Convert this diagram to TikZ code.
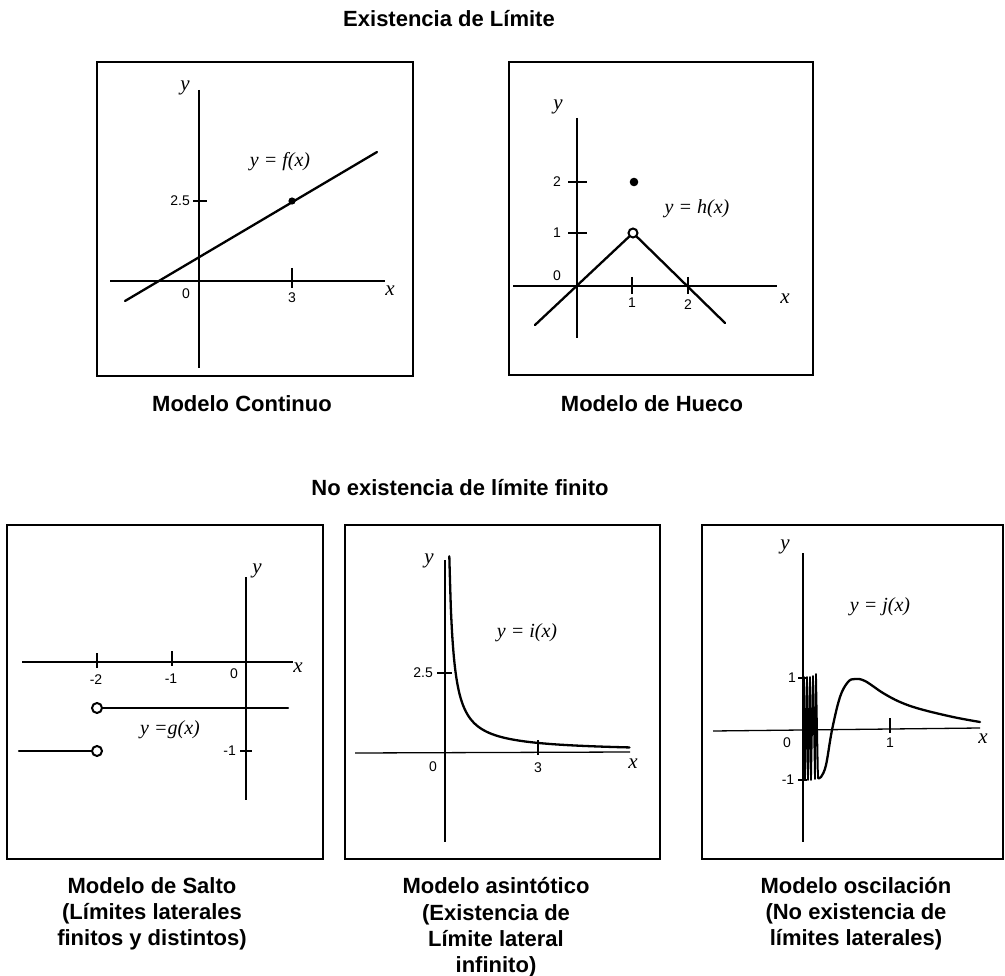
\documentclass[tikz,border=0pt]{standalone}
\usepackage{fontspec}
\setmainfont{Liberation Serif}
\setsansfont{Liberation Sans}
\begin{document}
\begin{tikzpicture}[x=1pt,y=-1pt,
  ax/.style={line width=1.3pt},
  crv/.style={line width=2.3pt,line cap=round,line join=round},
  frame/.style={line width=1.6pt},
  tk/.style={font=\fontsize{14}{16}\selectfont\sffamily,inner sep=0pt},
  var/.style={font=\fontsize{21}{22}\selectfont\itshape,inner sep=0pt},
  eq/.style={font=\fontsize{20}{22}\selectfont\itshape,inner sep=0pt},
  captxt/.style={font=\fontsize{22}{26}\selectfont\sffamily\bfseries,inner sep=0pt,anchor=base},
  hole/.style={draw,fill=white,line width=2pt},
]
\useasboundingbox (0,0) rectangle (1005,976);

% titles
\node[captxt] (t1) at (449,27) {Existencia de Límite};
\node[captxt] (t2) at (460,496) {No existencia de límite finito};

% ---------- Panel 1: continuo ----------
\draw[frame] (97,62) rectangle (413,376);
\draw[ax] (199,90) -- (199,368);
\draw[ax] (110,281) -- (385,281);
\draw[ax] (193,201) -- (207,201);
\draw[ax] (292,268) -- (292,288);
\draw[crv] (125,301) -- (377,152);
\fill (292,201) circle (3.6);
\node[tk,anchor=east] (p1a) at (190,201) {2.5};
\node[tk] (p1b) at (186,294) {0};
\node[tk] (p1c) at (292,298) {3};
\node[var] (p1x) at (390,291) {x};
\node[var] (p1y) at (185,88) {y};
\node[eq] (p1e) at (280,162) {y = f(x)};
\node[captxt] (c1) at (242,412) {Modelo Continuo};

% ---------- Panel 2: hueco ----------
\draw[frame] (509,62) rectangle (813,375);
\draw[ax] (577,118) -- (577,338);
\draw[ax] (513,286) -- (777,286);
\draw[ax] (568,182) -- (587,182);
\draw[ax] (568,233) -- (587,233);
\draw[ax] (632,277) -- (632,294);
\draw[ax] (688,277) -- (688,294);
\draw[crv] (535,325) -- (633,233) -- (725,323);
\node[hole,circle,inner sep=0pt,minimum size=9pt] (p2h) at (633,233) {};
\fill (634,182) circle (4.3);
\node[tk] (p2l2) at (557,182) {2};
\node[tk] (p2l1) at (557,233) {1};
\node[tk] (p2l0) at (557,276) {0};
\node[tk] (p2x1) at (632,303) {1};
\node[tk] (p2x2) at (688,305) {2};
\node[var] (p2x) at (785,299) {x};
\node[var] (p2y) at (558,107) {y};
\node[eq] (p2e) at (697,209) {y = h(x)};
\node[captxt] (c2) at (652,412) {Modelo de Hueco};

% ---------- Panel 3: salto ----------
\draw[frame] (7,525) rectangle (323,859);
\draw[ax] (246,577) -- (246,800);
\draw[ax] (22,662) -- (293,662);
\draw[ax] (97,653) -- (97,668);
\draw[ax] (172,651) -- (172,666);
\draw[ax] (240,751) -- (252,751);
\draw[crv] (97,708) -- (288,708);
\draw[crv] (19,751) -- (97,751);
\node[hole,circle,inner sep=0pt,minimum size=10pt] (p3h1) at (97,708) {};
\node[hole,circle,inner sep=0pt,minimum size=10pt] (p3h2) at (97,751) {};
\node[tk] (p3a) at (96,680) {-2};
\node[tk] (p3b) at (171,679) {-1};
\node[tk] (p3c) at (234,674) {0};
\node[var] (p3x) at (298,668) {x};
\node[var] (p3y) at (257,571) {y};
\node[tk,anchor=east] (p3d) at (236,751) {-1};
\node[eq] (p3e) at (170,730) {y =g(x)};
\node[captxt] (c3a) at (152,893) {Modelo de Salto};
\node[captxt] (c3b) at (152,919) {(Límites laterales};
\node[captxt] (c3c) at (152,945) {finitos y distintos)};

% ---------- Panel 4: asintotico ----------
\draw[frame] (345,525) rectangle (660,859);
\draw[ax] (445,560) -- (445,842);
\draw[ax] (355,753) -- (630,752);
\draw[ax] (437,673) -- (452,673);
\draw[ax] (538,740) -- (538,755);
\draw[crv] plot[domain=0.139:5.95,samples=120,smooth] ({445+31*\x},{752-27.2/\x});
\node[tk,anchor=east] (p4a) at (433,673) {2.5};
\node[tk] (p4b) at (433,767) {0};
\node[tk] (p4c) at (538,768) {3};
\node[var] (p4x) at (633,764) {x};
\node[var] (p4y) at (429,561) {y};
\node[eq] (p4e) at (527,633) {y = i(x)};
\node[captxt] (c4a) at (496,893) {Modelo asintótico};
\node[captxt] (c4b) at (496,920) {(Existencia de};
\node[captxt] (c4c) at (496,946) {Límite lateral};
\node[captxt] (c4d) at (496,972) {infinito)};

% ---------- Panel 5: oscilacion ----------
\draw[frame] (702,525) rectangle (1003,859);
\draw[ax] (803,553) -- (803,842);
\draw[ax] (713,731) -- (980,728);
\draw[ax] (798,678) -- (807,678);
\draw[ax] (798,780) -- (807,780);
\draw[ax] (890,718) -- (890,733);
\draw[line width=1.8pt,line join=round] (803,730) -- (804,677) -- (805,780) -- (807,677) -- (808,780)
  -- (810,677) -- (811,780) -- (813,676) -- (815,779) -- (816,674) -- (818,778);
\draw[crv] plot[smooth,tension=0.6] coordinates {(818,778) (821,777) (826,765) (832,730) (840,697) (848,682) (855,679) (865,681) (883,693) (900,702) (920,709) (953,717) (980,722)};
\node[tk] (p5a) at (792,678) {1};
\node[tk] (p5b) at (788,780) {-1};
\node[tk] (p5c) at (787,743) {0};
\node[tk] (p5d) at (890,743) {1};
\node[var] (p5x) at (983,739) {x};
\node[var] (p5y) at (785,547) {y};
\node[eq] (p5e) at (880,607) {y = j(x)};
\node[captxt] (c5a) at (856,893) {Modelo oscilación};
\node[captxt] (c5b) at (856,919) {(No existencia de};
\node[captxt] (c5c) at (856,945) {límites laterales)};
\end{tikzpicture}
\end{document}
